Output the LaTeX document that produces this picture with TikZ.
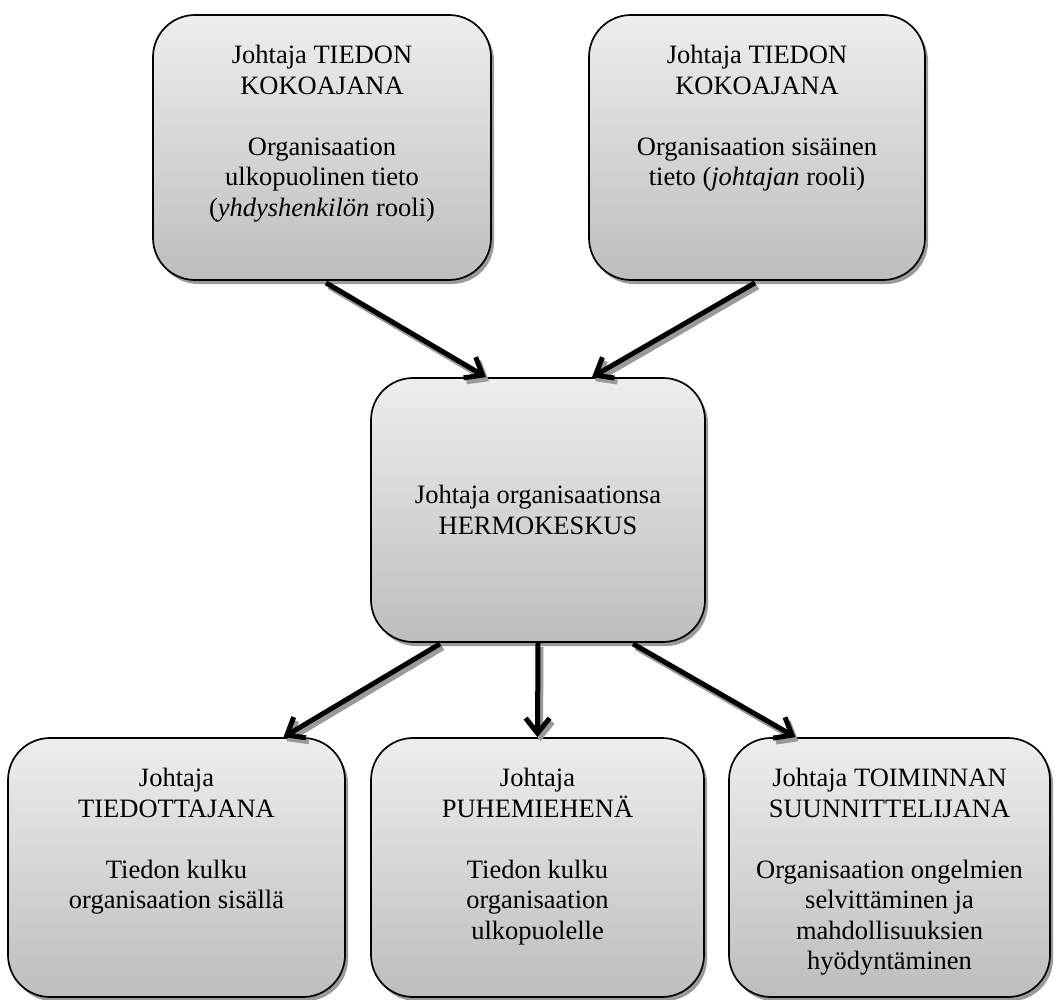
\documentclass[tikz,border=0pt]{standalone}
\usepackage{fontspec}
\setmainfont{Liberation Serif}
\usetikzlibrary{shadows,arrows.meta,calc}
\definecolor{gtop}{HTML}{EEEEEE}
\definecolor{gbot}{HTML}{BDBDBD}
\definecolor{shadowgray}{HTML}{9A9A9A}
\tikzset{
  box/.style={draw=black, line width=1.7pt, rounded corners=42pt,
    top color=gtop, bottom color=gbot, inner sep=0pt,
    drop shadow={shadow xshift=3pt, shadow yshift=-4pt, fill=shadowgray, opacity=1}},
  txt/.style={align=center, inner sep=0pt, font=\fontsize{26.5}{30.5}\selectfont},
  arr/.style={line width=5pt, black, -{Straight Barb[length=15pt,width=24pt]}},
  arrsh/.style={line width=5pt, shadowgray, -{Straight Barb[length=15pt,width=24pt]},
    transform canvas={shift={(3pt,-4pt)}}},
}
\begin{document}
\begin{tikzpicture}[x=1pt,y=-1pt]
\useasboundingbox (0,0) rectangle (1055,999);
% boxes
\node[box, minimum width=338pt, minimum height=265pt] (tl) at (322,147.5) {};
\node[box, minimum width=336pt, minimum height=265pt] (tr) at (757,147.5) {};
\node[box, minimum width=334pt, minimum height=264pt] (m) at (538,510) {};
\node[box, minimum width=337pt, minimum height=259pt] (bl) at (176.5,867.5) {};
\node[box, minimum width=333pt, minimum height=259pt] (bm) at (537.5,867.5) {};
\node[box, minimum width=321pt, minimum height=259pt] (br) at (889.5,867.5) {};
% texts
\node[txt, anchor=north] (tlt) at (322,45) {Johtaja TIEDON\\KOKOAJANA\\[30.5pt]Organisaation\\ulkopuolinen tieto\\(\textit{yhdyshenkilön} rooli)};
\node[txt, anchor=north] (trt) at (757,45) {Johtaja TIEDON\\KOKOAJANA\\[30.5pt]Organisaation sisäinen\\tieto (\textit{johtajan} rooli)};
\node[txt] (mt) at (538,510) {Johtaja organisaationsa\\HERMOKESKUS};
\node[txt, anchor=north] (blt) at (176.5,768) {Johtaja\\TIEDOTTAJANA\\[30.5pt]Tiedon kulku\\organisaation sisällä};
\node[txt, anchor=north] (bmt) at (537.5,768) {Johtaja\\PUHEMIEHENÄ\\[30.5pt]Tiedon kulku\\organisaation\\ulkopuolelle};
\node[txt, anchor=north] (brt) at (889.5,768) {Johtaja TOIMINNAN\\SUUNNITTELIJANA\\[30.5pt]Organisaation ongelmien\\selvittäminen ja\\mahdollisuuksien\\hyödyntäminen};
% connector end points
\coordinate (a1s) at ($(tl.south)+(4,2)$);
\coordinate (a1e) at ($(m.north)+(-52,0)$);
\coordinate (a2s) at ($(tr.south)+(-2,2)$);
\coordinate (a2e) at ($(m.north)+(54,0)$);
\coordinate (a3s) at ($(m.south)+(-98,1)$);
\coordinate (a3e) at ($(bl.north)+(107,0)$);
\coordinate (a4s) at ($(m.south)+(95,1)$);
\coordinate (a4e) at ($(br.north)+(-94,0)$);
% arrow shadows
\draw[arrsh] (a1s) -- (a1e);
\draw[arrsh] (a2s) -- (a2e);
\draw[arrsh] (a3s) -- (a3e);
\draw[arrsh] (m.south) -- (bm.north);
\draw[arrsh] (a4s) -- (a4e);
% arrows
\draw[arr] (a1s) -- (a1e);
\draw[arr] (a2s) -- (a2e);
\draw[arr] (a3s) -- (a3e);
\draw[arr] (m.south) -- (bm.north);
\draw[arr] (a4s) -- (a4e);
\end{tikzpicture}
\end{document}
